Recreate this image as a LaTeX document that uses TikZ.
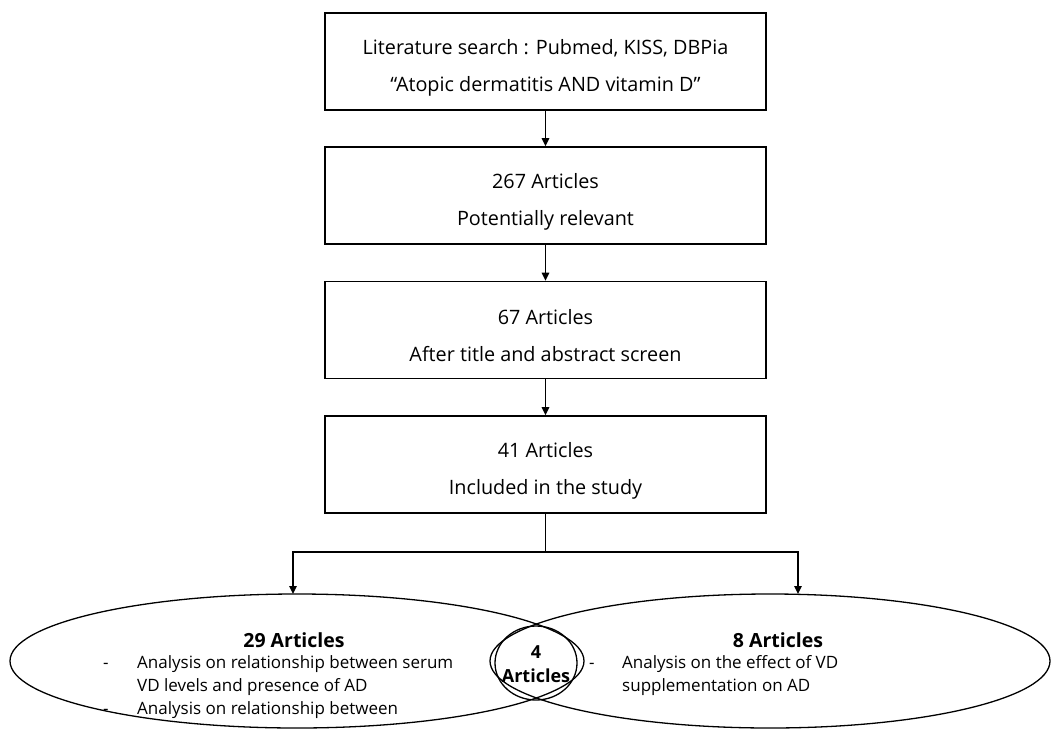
\documentclass[tikz,border=0pt]{standalone}
\usepackage{fontspec}
\setmainfont{Open Sans}
\usetikzlibrary{shapes.geometric,arrows.meta}
\tikzset{
  box/.style={draw, line width=1.6pt, minimum width=441pt, minimum height=97pt, inner sep=0pt},
  boxtxt/.style={align=center, font=\fontsize{19.8}{37}\selectfont, inner sep=0pt},
  arr/.style={line width=1.6pt, -{Triangle[length=8pt,width=7.5pt]}},
  link/.style={line width=1.6pt},
  ell/.style={draw, ellipse, line width=1.3pt, inner sep=0pt},
  head/.style={font=\fontsize{19.5}{22}\bfseries\selectfont, inner sep=0pt},
  mhead/.style={font=\fontsize{18}{22}\bfseries\selectfont, inner sep=0pt},
  etxt/.style={font=\fontsize{17}{20}\selectfont, inner sep=0pt, anchor=base west},
}
\begin{document}
\begin{tikzpicture}[x=1pt,y=-1pt]
\useasboundingbox (0,0) rectangle (1053,729);
% boxes
\node[box] (b1) at (545.5,61.5) {};
\node[boxtxt] (t1) at (545.5,68) {Literature search : Pubmed, KISS, DBPia\\``Atopic dermatitis AND vitamin D''};
\node[box] (b2) at (545.5,195.5) {};
\node[boxtxt] (t2) at (545.5,201.5) {267 Articles\\Potentially relevant};
\node[box] (b3) at (545.5,330) {};
\node[boxtxt] (t3) at (545.5,335.5) {67 Articles\\After title and abstract screen};
\node[box] (b4) at (545.5,464.5) {};
\node[boxtxt] (t4) at (545.5,470.5) {41 Articles\\Included in the study};
\draw[arr] (b1) -- (b2);
\draw[arr] (b2) -- (b3);
\draw[arr] (b3) -- (b4);
% ellipses
\node[ell, minimum width=574pt, minimum height=134pt] (eL) at (297,661) {};
\node[ell, minimum width=560pt, minimum height=134pt] (eR) at (770,661) {};
\node[ell, minimum width=82pt, minimum height=74pt] (eM) at (536,663) {};
% branch
\coordinate (split) at (545.5,552);
\coordinate (tipL) at (293,594);
\coordinate (tipR) at (798,594);
\draw[link] (b4.south) -- (split);
\draw[arr] (split) -| (tipL);
\draw[arr] (split) -| (tipR);
% left ellipse text
\node[head] (hL) at (294,640) {29 Articles};
\node[etxt] (dL1) at (103,668) {-};
\node[etxt] (aL1) at (137,668) {Analysis on relationship between serum};
\node[etxt] (aL2) at (137,691) {VD levels and presence of AD};
\node[etxt] (dL2) at (103,714) {-};
\node[etxt] (aL3) at (137,714) {Analysis on relationship between};
% middle
\node[mhead] (hM1) at (536,652) {4};
\node[mhead] (hM2) at (536,676) {Articles};
% right ellipse text
\node[head] (hR) at (778,640) {8 Articles};
\node[etxt] (dR1) at (589,668) {-};
\node[etxt] (aR1) at (622,668) {Analysis on the effect of VD};
\node[etxt] (aR2) at (622,691) {supplementation on AD};
\end{tikzpicture}
\end{document}
